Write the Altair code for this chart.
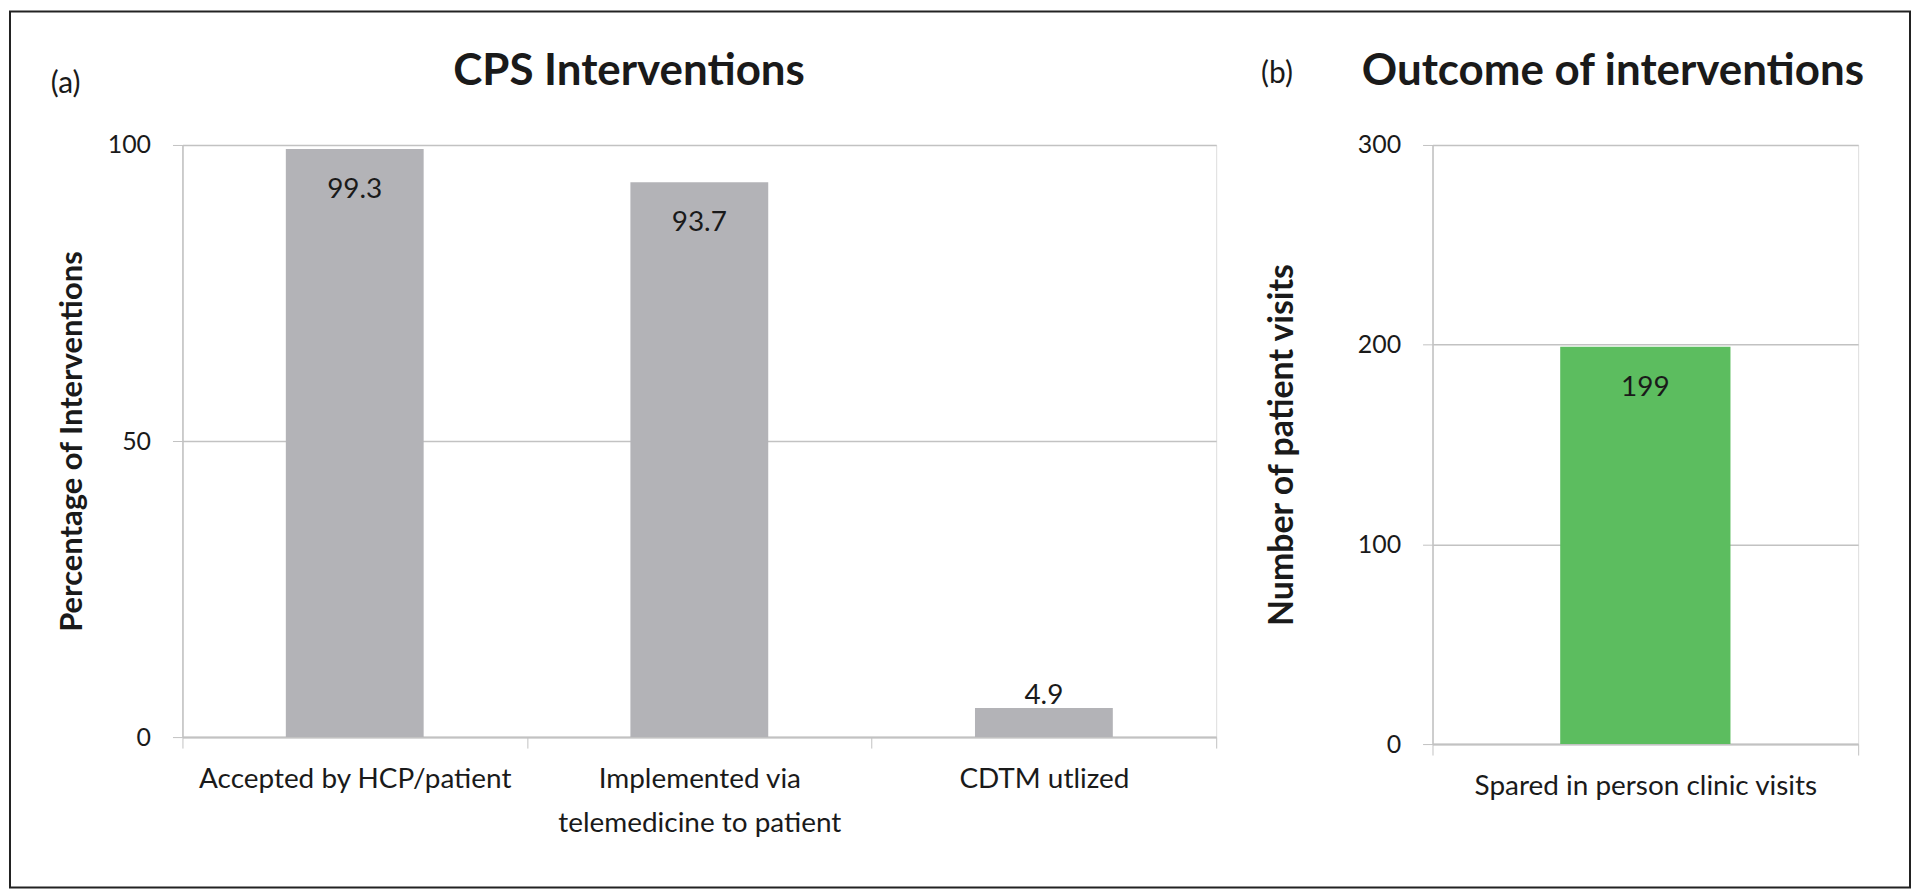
import altair as alt
import pandas as pd

# ---------------- data ----------------
categories_a = ["Accepted by HCP/patient", "Implemented via|telemedicine to patient", "CDTM utlized"]
values_a = [99.3, 93.7, 4.9]
ticks_a = [0, 50, 100]

categories_b = ["Spared in person clinic visits"]
values_b = [199]
ticks_b = [0, 100, 200, 300]

FONT = "Lato"
TEXT = "#1a1a1a"
GRID = "#c2c2c2"
GRAY_BAR = "#b3b3b7"
GREEN_BAR = "#5cbd5f"


def panel(cats, vals, ticks, ymax, color, ytitle, title, tag,
          w, h, title_x, ytitle_x, ytitle_size, tag_x, tag_y, frame=None):
    df = pd.DataFrame({"cat": cats, "val": vals})
    one = pd.DataFrame({"k": [0]})

    x = alt.X("cat:N", sort=cats, title=None,
              scale=alt.Scale(paddingInner=0, paddingOuter=0),
              axis=alt.Axis(labelAngle=0,
                            labelExpr="isValid(datum.value) ? split(datum.value, '|') : ''",
                            labelFont=FONT, labelFontSize=28, labelColor=TEXT, labelLimit=1000,
                            labelPadding=18, labelLineHeight=44, labelBaseline="top",
                            tickBand="extent", tickSize=11, tickColor=GRID,
                            domainColor=GRID, domainWidth=2, grid=False))
    y = alt.Y("val:Q", title=ytitle,
              scale=alt.Scale(domain=[0, ymax], nice=False, zero=True),
              axis=alt.Axis(values=ticks, grid=True, gridColor=GRID, gridWidth=1.5,
                            domainColor=GRID, domainWidth=1.5, tickColor=GRID, tickSize=10,
                            labelFont=FONT, labelFontSize=25, labelColor=TEXT,
                            labelPadding=22, format="d",
                            titleFont=FONT, titleFontSize=ytitle_size, titleFontWeight="bold",
                            titleColor=TEXT, titleX=ytitle_x, titleY=h / 2,
                            titleAngle=270, titleAlign="center", titleBaseline="middle"))

    layers = []
    if frame is not None:
        layers.append(
            alt.Chart(one).mark_rect(fill="white", fillOpacity=0, stroke="#222222", strokeWidth=2)
            .encode(x=alt.value(frame[0]), x2=alt.value(frame[1]),
                    y=alt.value(frame[2]), y2=alt.value(frame[3]))
        )
    bars = alt.Chart(df).mark_bar(color=color, width=alt.RelativeBandSize(0.4)).encode(x=x, y=y)
    layers.append(bars)

    big = alt.Chart(df).transform_filter("datum.val >= 0.2 * %f" % ymax).mark_text(
        font=FONT, fontSize=28, color=TEXT, baseline="middle", dy=41
    ).encode(x=x, y=y, text=alt.Text("val:Q"))
    small = alt.Chart(df).transform_filter("datum.val < 0.2 * %f" % ymax).mark_text(
        font=FONT, fontSize=28, color=TEXT, baseline="bottom", dy=2
    ).encode(x=x, y=y, text=alt.Text("val:Q"))
    layers += [big, small]

    ttl = alt.Chart(one).mark_text(font=FONT, fontSize=44, fontWeight="bold", color=TEXT,
                                   baseline="middle", align="center").encode(
        x=alt.value(title_x), y=alt.value(-73), text=alt.value(title))
    tg = alt.Chart(one).mark_text(font=FONT, fontSize=30, color=TEXT,
                                  baseline="middle", align="left").encode(
        x=alt.value(tag_x), y=alt.value(tag_y), text=alt.value(tag))
    layers += [ttl, tg]

    return alt.layer(*layers).properties(width=w, height=h)


WA, HA = 1037, 594
WB, HB = 427, 601

panel_a = panel(categories_a, values_a, ticks_a, 100, GRAY_BAR,
                "Percentage of Interventions", "CPS Interventions", "(a)",
                WA, HA, 448, -110, 31, -132, -61,
                frame=(-173, 1733, -134, 745))
panel_b = panel(categories_b, values_b, ticks_b, 300, GREEN_BAR,
                "Number of patient visits", "Outcome of interventions", "(b)",
                WB, HB, 181, -150, 34, -172, -71)

chart = alt.hconcat(panel_a, panel_b, spacing=217, bounds="flush").properties(
    padding=0
).configure_view(stroke=None).configure(background="white")

chart.save("out.html", embed_options={"renderer": "svg", "actions": False})
